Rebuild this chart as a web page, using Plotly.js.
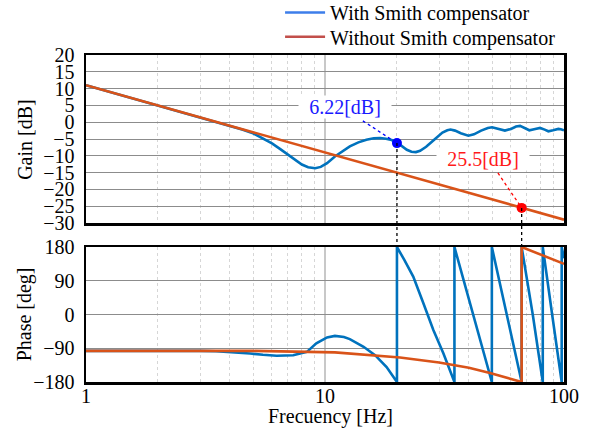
<!DOCTYPE html>
<html>
<head>
<meta charset="utf-8">
<script src="https://cdn.plot.ly/plotly-3.0.1.min.js"></script>
<style>
html,body{margin:0;padding:0;background:#fff;}
#chart{width:595px;height:433px;}
</style>
</head>
<body>
<div id="chart"></div>
<script>
// ---- Data ----
// Gain, with Smith compensator
var gainWithFreq = [1, 2, 3, 4, 4.5, 5, 5.5, 6, 6.5, 7, 7.5, 8, 8.5, 9.1, 9.6, 10.2, 11, 11.8, 12.7, 13.8, 14.9, 16, 17, 18, 19, 20, 21, 22, 23, 24, 25, 26.5, 28, 29.5, 31, 32.5, 33.5, 35, 37, 39.8, 42, 45, 48, 50, 53, 56.6, 60, 63, 65.5, 68, 71.6, 75, 79.4, 83, 86, 90, 94.7, 97, 100];
var gainWith = [11.0, 5.0, 1.5, -1.1, -2.2, -3.3, -4.8, -6.3, -8.0, -9.7, -11.3, -12.6, -13.4, -13.7, -13.3, -12.2, -10.2, -8.6, -7.2, -6.0, -5.2, -4.8, -4.7, -4.9, -5.3, -6.0, -7.2, -8.2, -8.8, -8.9, -8.5, -7.3, -5.8, -4.3, -3.1, -2.4, -2.2, -2.5, -3.3, -4.0, -3.6, -2.5, -1.7, -1.5, -1.9, -2.5, -2.0, -1.3, -1.1, -1.6, -2.4, -2.1, -1.7, -2.2, -2.7, -2.4, -2.0, -2.1, -2.4];

// Gain, without Smith compensator
var gainWithoutFreq = [1, 2, 5, 10, 20, 50, 66.5, 100];
var gainWithout = [11.0, 5.0, -3.0, -9.0, -15.0, -23.0, -25.5, -29.0];

// Phase, with Smith compensator
var phaseWithFreq = [1, 2, 3, 3.5, 4, 4.86, 5.5, 6.28, 7.36, 8.4, 9.2, 10.2, 11, 12, 12.7, 14.5, 16.2, 18.1, 20,
  20, 21.5, 23.4, 25.8, 28.4, 31.3, 34.8,
  34.8, 41.7, 49.9,
  49.9, 57.6, 66.5,
  66.5, 74, 81.5,
  81.5, 89.2, 97.8,
  97.8, 100];
var phaseWith = [-97, -96, -97, -98, -100, -104, -107.5, -110, -108.5, -99.6, -77, -61, -57, -60, -65.7, -86, -108.5, -140, -180,
  180, 145, 101, 30, -41.5, -104, -180,
  180, 3, -180,
  180, 3, -180,
  180, 0, -180,
  180, 0, -180,
  180, 150];

// Phase, without Smith compensator
var phaseWithoutFreq = [1, 2, 5, 11, 15, 18.7, 20.6, 30, 34.7, 40, 49, 60, 66.5, 66.5, 82, 100];
var phaseWithout = [-97, -97, -97, -101, -107, -111, -114.7, -128, -135, -142, -156, -171, -180, 180, 157, 135];

// Marked points and labels
var markFreq = [20, 66.5];
var markGain = [-6.22, -25.5];
var markLabels = ['6.22[dB]', '25.5[dB]'];
var labelFreq = [12.1, 45.8];
var labelGain = [4.65, -11.0];
var leaderFreq = [14.4, 52.9];
var leaderGain = [0.4, -15.1];

var seriesNames = ['With Smith compensator', 'Without Smith compensator'];
var xTicks = [1, 10, 100];
var xMinor = [2, 3, 4, 5, 6, 7, 8, 9, 20, 30, 40, 50, 60, 70, 80, 90];
var gainTicks = [20, 15, 10, 5, 0, -5, -10, -15, -20, -25, -30];
var phaseTicks = [180, 90, 0, -90, -180];
var axisTitles = ['Gain [dB]', 'Phase [deg]', 'Frecuency [Hz]'];

// ---- Styles ----
var FONT = '"Liberation Serif", "Times New Roman", "DejaVu Serif", serif';
var FS = 20;
var cBlue = '#0072BD', cOrange = '#D95319';
var legBlue = '#3d7eea', legRed = '#c24f4b';
var markColors = ['#0000ff', '#ff0000'];
var labelColors = ['#1a1aff', '#ff1a1a'];
var gDom = [0.4862, 1], pDom = [0, 0.4128];
var gRange = [-30, 20];

var traces = [
  {x: gainWithFreq, y: gainWith, xaxis: 'x', yaxis: 'y', mode: 'lines', line: {color: cBlue, width: 2.6}, showlegend: false, hoverinfo: 'skip'},
  {x: gainWithoutFreq, y: gainWithout, xaxis: 'x', yaxis: 'y', mode: 'lines', line: {color: cOrange, width: 2.6}, showlegend: false, hoverinfo: 'skip'},
  {x: phaseWithFreq, y: phaseWith, xaxis: 'x2', yaxis: 'y2', mode: 'lines', line: {color: cBlue, width: 2.6}, showlegend: false, hoverinfo: 'skip'},
  {x: phaseWithoutFreq, y: phaseWithout, xaxis: 'x2', yaxis: 'y2', mode: 'lines', line: {color: cOrange, width: 2.6}, showlegend: false, hoverinfo: 'skip'},
  {x: markFreq, y: markGain, xaxis: 'x', yaxis: 'y', mode: 'markers', marker: {color: markColors, size: 10}, showlegend: false, cliponaxis: false, hoverinfo: 'skip'},
  {x: [null], y: [null], xaxis: 'x', yaxis: 'y', mode: 'lines', name: seriesNames[0], legend: 'legend', line: {color: legBlue, width: 2.6}},
  {x: [null], y: [null], xaxis: 'x', yaxis: 'y', mode: 'lines', name: seriesNames[1], legend: 'legend2', line: {color: legRed, width: 2.6}}
];

function gainToPaper(g) {
  return gDom[0] + (g - gRange[0]) / (gRange[1] - gRange[0]) * (gDom[1] - gDom[0]);
}

var shapes = [];
for (var i = 0; i < markFreq.length; i++) {
  shapes.push({type: 'line', xref: 'x', yref: 'paper', x0: markFreq[i], x1: markFreq[i],
    y0: gainToPaper(markGain[i]), y1: pDom[1], line: {color: '#000', width: 1.3, dash: 'dot'}, layer: 'above'});
  shapes.push({type: 'line', xref: 'x', yref: 'y', x0: leaderFreq[i], y0: leaderGain[i], x1: markFreq[i], y1: markGain[i],
    line: {color: markColors[i], width: 1.3, dash: 'dot'}, layer: 'above'});
}

var annotations = [];
for (var j = 0; j < markLabels.length; j++) {
  annotations.push({xref: 'x', yref: 'y', x: Math.log10(labelFreq[j]), y: labelGain[j], text: markLabels[j],
    showarrow: false, bgcolor: '#ffffff', width: 92, height: 22, borderpad: 0,
    font: {family: FONT, size: FS, color: labelColors[j]}});
}
annotations.push({xref: 'paper', yref: 'paper', x: -0.128, y: (gDom[0] + gDom[1]) / 2, xanchor: 'center', yanchor: 'middle',
  text: axisTitles[0], textangle: -90, showarrow: false, font: {family: FONT, size: FS}});
annotations.push({xref: 'paper', yref: 'paper', x: -0.128, y: (pDom[0] + pDom[1]) / 2, xanchor: 'center', yanchor: 'middle',
  text: axisTitles[1], textangle: -90, showarrow: false, font: {family: FONT, size: FS}});
annotations.push({xref: 'paper', yref: 'paper', x: 0.511, y: -0.106, xanchor: 'center', yanchor: 'middle',
  text: axisTitles[2], showarrow: false, font: {family: FONT, size: FS}});

var axLine = {showline: true, mirror: true, linecolor: '#000', linewidth: 2.5, ticks: '', zeroline: false};
var minorGrid = {tickmode: 'array', tickvals: xMinor, showgrid: true, gridcolor: '#d6d6d6', gridwidth: 1, griddash: 'dot', ticks: ''};
var legendBase = {x: 0.406, xanchor: 'left', yanchor: 'middle', bgcolor: 'rgba(0,0,0,0)',
  font: {family: FONT, size: FS, color: '#000'}, itemwidth: 40};

var layout = {
  width: 595, height: 433,
  margin: {l: 86, r: 31, t: 55, b: 51, autoexpand: false},
  paper_bgcolor: '#fff', plot_bgcolor: '#fff',
  font: {family: FONT, size: FS, color: '#000'},
  showlegend: true,
  legend: Object.assign({}, legendBase, {y: 1.130}),
  legend2: Object.assign({}, legendBase, {y: 1.056}),
  xaxis: Object.assign({}, axLine, {type: 'log', range: [0, 2], anchor: 'y', domain: [0, 1],
    showticklabels: false, tickvals: xTicks, showgrid: true, gridcolor: '#c8c8c8', gridwidth: 2, minor: minorGrid}),
  xaxis2: Object.assign({}, axLine, {type: 'log', range: [0, 2], anchor: 'y2', domain: [0, 1],
    tickvals: xTicks, ticktext: xTicks.map(String), showgrid: true, gridcolor: '#c8c8c8', gridwidth: 2, minor: minorGrid,
    tickfont: {family: FONT, size: FS}, ticklabelstandoff: -6}),
  yaxis: Object.assign({}, axLine, {domain: gDom, range: gRange, anchor: 'x', tickvals: gainTicks,
    showgrid: true, gridcolor: '#8c8c8c', gridwidth: 1, tickfont: {family: FONT, size: FS}, ticklabelstandoff: 5}),
  yaxis2: Object.assign({}, axLine, {domain: pDom, range: [-180, 180], anchor: 'x2', tickvals: phaseTicks,
    showgrid: true, gridcolor: '#8c8c8c', gridwidth: 1, tickfont: {family: FONT, size: FS}, ticklabelstandoff: 5}),
  shapes: shapes,
  annotations: annotations
};

Plotly.newPlot('chart', traces, layout, {staticPlot: true, displayModeBar: false});
</script>
</body>
</html>
